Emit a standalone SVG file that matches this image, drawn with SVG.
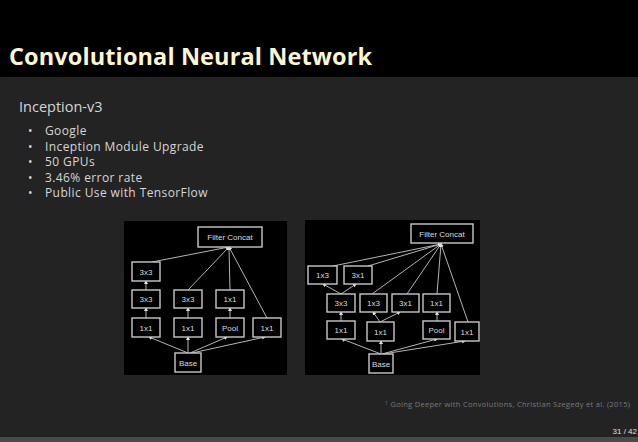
<svg xmlns="http://www.w3.org/2000/svg" width="638" height="442" viewBox="0 0 638 442">
<style>
.bx rect{fill:#000;stroke:#c8c8c8;stroke-width:1.4}
.bx text{fill:#dcdcdc;font-family:"Liberation Sans",Arial,sans-serif;font-size:8px;text-anchor:middle}
.cn line{stroke:#b4b4b4;stroke-width:1;marker-end:url(#ah)}
.bl{fill:#d6d6d6;font-family:"Open Sans","Liberation Sans",sans-serif;font-size:12px;letter-spacing:0.4px}
</style>
<defs>
<marker id="ah" markerUnits="userSpaceOnUse" markerWidth="4" markerHeight="4" refX="3" refY="2" orient="auto"><path d="M0,0 L4,2 L0,4 Z" fill="#e0e0e0"/></marker>
</defs>
<rect x="0" y="0" width="638" height="442" fill="#232323"/>
<rect x="0" y="0" width="638" height="77" fill="#000"/>
<rect x="0" y="437" width="638" height="5" fill="#4a4a4a"/>
<text x="9" y="65" fill="#fbf6d0" font-family="'Open Sans','Liberation Sans',sans-serif" font-weight="bold" font-size="23.5" textLength="363">Convolutional Neural Network</text>
<text x="19" y="112" fill="#d6d6d6" font-family="'Open Sans','Liberation Sans',sans-serif" font-size="14.5">Inception-v3</text>
<g class="bl">
<text x="28" y="135">•</text><text x="45" y="135">Google</text>
<text x="28" y="150.5">•</text><text x="45" y="150.5">Inception Module Upgrade</text>
<text x="28" y="166">•</text><text x="45" y="166">50 GPUs</text>
<text x="28" y="181.5">•</text><text x="45" y="181.5">3.46% error rate</text>
<text x="28" y="197">•</text><text x="45" y="197">Public Use with TensorFlow</text>
</g>
<rect x="124" y="221" width="163" height="154" fill="#000"/>
<rect x="305" y="220" width="175" height="155" fill="#000"/>
<g class="cn" id="connectors">
<line x1="152" y1="262" x2="229" y2="247"/>
<line x1="188" y1="290" x2="229" y2="247"/>
<line x1="230" y1="290" x2="229" y2="247"/>
<line x1="267" y1="318" x2="229" y2="247"/>
<line x1="146" y1="290" x2="146" y2="281"/>
<line x1="146" y1="318" x2="146" y2="308"/>
<line x1="188" y1="318" x2="188" y2="308"/>
<line x1="230" y1="318" x2="230" y2="308"/>
<line x1="188" y1="353" x2="149" y2="337"/>
<line x1="188" y1="353" x2="188" y2="337"/>
<line x1="190" y1="353" x2="227" y2="337"/>
<line x1="192" y1="353" x2="265" y2="337"/>
<line x1="333" y1="266" x2="441" y2="244"/>
<line x1="368" y1="266" x2="441" y2="244"/>
<line x1="372" y1="294" x2="441" y2="244"/>
<line x1="407" y1="294" x2="441" y2="244"/>
<line x1="437" y1="294" x2="441" y2="244"/>
<line x1="468" y1="322" x2="441" y2="244"/>
<line x1="341" y1="294" x2="323" y2="284"/>
<line x1="341" y1="294" x2="356" y2="284"/>
<line x1="341" y1="321" x2="341" y2="312"/>
<line x1="380" y1="322" x2="373" y2="312"/>
<line x1="380" y1="322" x2="400" y2="312"/>
<line x1="437" y1="321" x2="437" y2="312"/>
<line x1="381" y1="354" x2="342" y2="339"/>
<line x1="381" y1="354" x2="381" y2="341"/>
<line x1="382" y1="354" x2="437" y2="339"/>
<line x1="383" y1="354" x2="465" y2="341"/>
</g>
<g class="bx">
<g id="l-concat"><rect x="198" y="227" width="64" height="20"/><text x="230" y="240">Filter Concat</text></g>
<g id="l-3x3a"><rect x="132" y="262" width="28" height="19"/><text x="146" y="274.5">3x3</text></g>
<g id="l-3x3b"><rect x="132" y="290" width="28" height="18"/><text x="146" y="302">3x3</text></g>
<g id="l-1x1a"><rect x="132" y="318" width="28" height="19"/><text x="146" y="330.5">1x1</text></g>
<g id="l-3x3c"><rect x="174" y="290" width="28" height="18"/><text x="188" y="302">3x3</text></g>
<g id="l-1x1b"><rect x="174" y="318" width="28" height="19"/><text x="188" y="330.5">1x1</text></g>
<g id="l-1x1c"><rect x="216" y="290" width="28" height="18"/><text x="230" y="302">1x1</text></g>
<g id="l-pool"><rect x="216" y="318" width="28" height="19"/><text x="230" y="330.5">Pool</text></g>
<g id="l-1x1d"><rect x="253" y="318" width="28" height="19"/><text x="267" y="330.5">1x1</text></g>
<g id="l-base"><rect x="175" y="353" width="26" height="19"/><text x="188" y="365.5">Base</text></g>
<g id="r-concat"><rect x="411" y="224" width="62" height="19"/><text x="442" y="236.5">Filter Concat</text></g>
<g id="r-1x3a"><rect x="308" y="266" width="29" height="18"/><text x="322.5" y="278">1x3</text></g>
<g id="r-3x1a"><rect x="344" y="266" width="28" height="18"/><text x="358" y="278">3x1</text></g>
<g id="r-3x3"><rect x="327" y="294" width="28" height="18"/><text x="341" y="306">3x3</text></g>
<g id="r-1x3b"><rect x="360" y="294" width="27" height="18"/><text x="373.5" y="306">1x3</text></g>
<g id="r-3x1b"><rect x="392" y="294" width="27" height="18"/><text x="405.5" y="306">3x1</text></g>
<g id="r-1x1a"><rect x="423" y="294" width="27" height="18"/><text x="436.5" y="306">1x1</text></g>
<g id="r-1x1b"><rect x="327" y="321" width="28" height="18"/><text x="341" y="333">1x1</text></g>
<g id="r-1x1c"><rect x="367" y="322" width="27" height="19"/><text x="380.5" y="334.5">1x1</text></g>
<g id="r-pool"><rect x="423" y="321" width="27" height="18"/><text x="436.5" y="333">Pool</text></g>
<g id="r-1x1d"><rect x="455" y="322" width="24" height="19"/><text x="467" y="334.5">1x1</text></g>
<g id="r-base"><rect x="369" y="354" width="24" height="19"/><text x="381" y="366.5">Base</text></g>
</g>
<text x="385" y="407" fill="#7a7a7a" font-family="'Open Sans','Liberation Sans',sans-serif" font-size="7.5" textLength="245"><tspan font-size="5" dy="-2">1</tspan><tspan dy="2"> Going Deeper with Convolutions, Christian Szegedy et al. (2015)</tspan></text>
<text x="637" y="434" fill="#e0e0e0" font-family="'Liberation Sans',sans-serif" font-size="8" text-anchor="end">31 / 42</text>
</svg>
